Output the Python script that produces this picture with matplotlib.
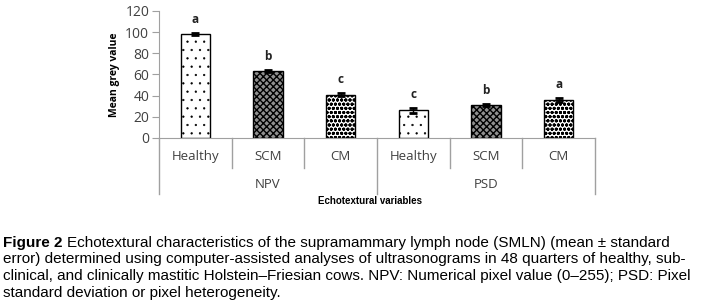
import matplotlib.pyplot as plt
from matplotlib.transforms import blended_transform_factory

# data
groups = ["NPV", "PSD"]
conditions = ["Healthy", "SCM", "CM"]
means = [98, 63, 41, 26, 31, 36]
errors = [1.0, 1.0, 1.2, 2.0, 1.2, 1.8]
letters = ["a", "b", "c", "c", "b", "a"]

caption_lines = [
    "Echotextural characteristics of the supramammary lymph node (SMLN) (mean \u00b1 standard",
    "error) determined using computer-assisted analyses of ultrasonograms in 48 quarters of healthy, sub-",
    "clinical, and clinically mastitic Holstein\u2013Friesian cows. NPV: Numerical pixel value (0\u2013255); PSD: Pixel",
    "standard deviation or pixel heterogeneity.",
]

plt.rcParams['font.family'] = ['Open Sans', 'DejaVu Sans']

fig = plt.figure(figsize=(7.04, 3.06), dpi=100)
W, H = 704, 306
ax = fig.add_axes([159 / W, 1 - 138 / H, (595 - 159) / W, (138 - 11) / H])

# fill pattern per condition (hatch, face colour, hatch line width)
styles = [
    dict(facecolor="white", hatch="..", hlw=0.4),
    dict(facecolor="#909090", hatch="xxxxx", hlw=1.0),
    dict(facecolor="white", hatch="oooo", hlw=1.0),
]
x = list(range(len(means)))
for i in x:
    st = styles[i % 3]
    with plt.rc_context({"hatch.linewidth": st["hlw"]}):
        ax.bar(i, means[i], width=0.4, facecolor=st["facecolor"], hatch=st["hatch"],
               edgecolor="black", linewidth=1.0, zorder=2)
    ax.errorbar(i, means[i], yerr=errors[i], fmt="none", ecolor="black",
                elinewidth=1.0, capsize=3, capthick=2, zorder=3)
    ax.text(i, means[i] + errors[i] + 7, letters[i], ha="center", va="bottom",
            fontsize=8.5, fontweight="bold", color="#222222")

ax.set_xlim(-0.5, 5.5)
ax.set_ylim(0, 120)
ax.set_yticks(range(0, 121, 20))
ax.set_xticks([])
for s in ["top", "right"]:
    ax.spines[s].set_visible(False)
for s in ["left", "bottom"]:
    ax.spines[s].set_color("#a0a0a0")
ax.tick_params(axis="y", colors="#a0a0a0", labelcolor="#404040", labelsize=10, length=5, pad=2)
ax.set_ylabel("Mean grey value", fontsize=7.5, fontweight="bold", labelpad=4)

# grouped category axis below the plot
tr = blended_transform_factory(ax.transData, ax.transAxes)
px = 1 / (138 - 11)  # one pixel in axes units
for i in x:
    ax.text(i, -19 * px, conditions[i % 3], transform=tr, ha="center", va="center",
            fontsize=9.5, color="#404040")
for b in [-0.5, 0.5, 1.5, 2.5, 3.5, 4.5, 5.5]:
    depth = 56 if b in (-0.5, 2.5, 5.5) else 30
    ax.plot([b, b], [0, -depth * px], transform=tr, color="#a0a0a0", lw=1, clip_on=False)
for g, name in enumerate(groups):
    ax.text(g * 3 + 1, -47 * px, name, transform=tr, ha="center", va="center",
            fontsize=9.5, color="#404040")

fig.text(370 / W, 1 - 201 / H, "Echotextural variables", ha="center", va="center",
         fontsize=7, fontweight="bold", family=["Liberation Sans", "DejaVu Sans"])

# caption
cap_font = ["Liberation Sans", "DejaVu Sans"]
cap_size = 10.95
y0 = 243
for k, line in enumerate(caption_lines):
    y = 1 - (y0 + k * 16.5) / H
    if k == 0:
        t = fig.text(3 / W, y, "Figure 2 ", ha="left", va="center", fontsize=cap_size,
                     fontweight="bold", family=cap_font)
        fig.canvas.draw()
        bb = t.get_window_extent()
        fig.text(bb.x1 / W, y, line, ha="left", va="center", fontsize=cap_size, family=cap_font)
    else:
        fig.text(3 / W, y, line, ha="left", va="center", fontsize=cap_size, family=cap_font)

fig.savefig("out.png", dpi=100)
